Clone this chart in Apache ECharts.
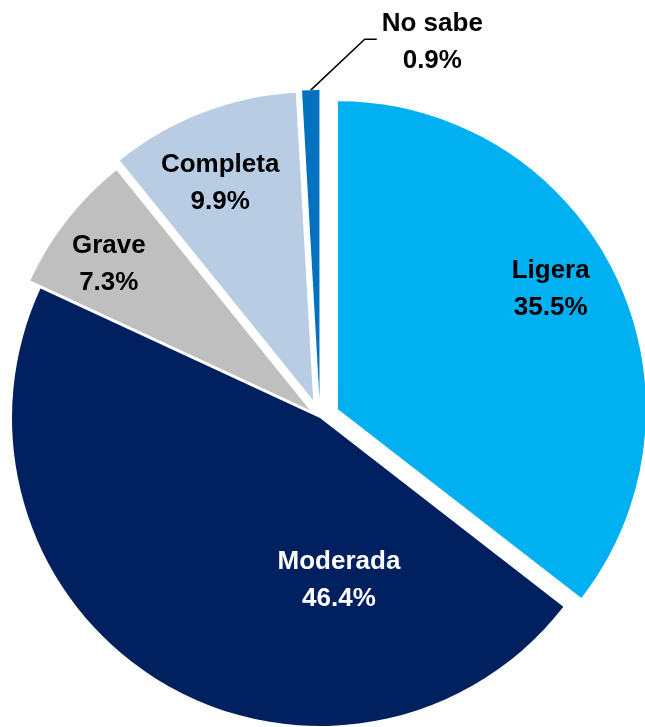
<!DOCTYPE html>
<html>
<head>
<meta charset="utf-8">
<script src="https://cdn.jsdelivr.net/npm/echarts@6/dist/echarts.min.js"></script>
<style>
  html, body { margin: 0; padding: 0; background: #fff; }
  #chart { width: 645px; height: 727px; }
</style>
</head>
<body>
<div id="chart"></div>
<script>
// datos del gráfico
const categories = ['Ligera', 'Moderada', 'Grave', 'Completa', 'No sabe'];
const values = [35.5, 46.4, 7.3, 9.9, 0.9];

// estilo por porción
const colors = ['#00B0F0', '#002060', '#BFBFBF', '#B8CCE4', '#0070C0'];
const labelColors = ['#000', '#fff', '#000', '#000', '#000'];
const explode = [20, 0, 13, 19, 20];      // separación de cada porción (px)
const labelDist = [264, 163, 261, 255, 0]; // distancia de la etiqueta al centro (px)
const labelTurn = [-3, -38, -2, -2, 0];    // giro de la etiqueta (grados)

const CX = 320, CY = 418, R = 308;
const FONT = "'Liberation Sans', Arial, sans-serif";

const total = values.reduce((a, b) => a + b, 0);
const midAngles = [];
let acc = 0;
values.forEach((v) => {
  midAngles.push(((acc + v / 2) / total) * 360);
  acc += v;
});

const polar = (deg, dist) => {
  const a = (deg * Math.PI) / 180;
  return [CX + dist * Math.sin(a), CY - dist * Math.cos(a)];
};

// una serie por porción, cada una desplazada hacia fuera según explode
const makeSeries = (k) => {
  const outside = k === 4;
  return {
    type: 'pie',
    center: polar(midAngles[k], explode[k]),
    radius: R,
    startAngle: 90,
    clockwise: true,
    avoidLabelOverlap: false,
    silent: true,
    data: values.map((v, i) => ({
      name: categories[i],
      value: v,
      itemStyle: { color: i === k ? colors[i] : 'rgba(0,0,0,0)' },
      label: { show: i === k },
      labelLine: { show: i === k && outside }
    })),
    label: {
      position: outside ? 'outside' : 'inside',
      formatter: (p) => `${p.name}\n${p.value.toFixed(1)}%`,
      fontFamily: FONT,
      fontWeight: 'bold',
      fontSize: 26,
      lineHeight: 37,
      color: labelColors[k]
    },
    labelLine: {
      lineStyle: { color: '#000', width: 1.5 }
    },
    labelLayout: (params) => {
      if (params.dataIndex !== k) return {};
      if (!outside) {
        const [x, y] = polar(midAngles[k] + labelTurn[k], labelDist[k]);
        return { x, y, align: 'center', verticalAlign: 'middle' };
      }
      const p0 = polar(midAngles[k], R + explode[k]);
      const p1 = [p0[0] + 54, p0[1] - 51];
      const p2 = [p1[0] + 12, p1[1]];
      const w = params.labelRect.width;
      return {
        x: p2[0] + 5 + w / 2,
        y: p2[1] + 3,
        align: 'center',
        verticalAlign: 'middle',
        labelLinePoints: [p0, p1, p2]
      };
    }
  };
};

const chart = echarts.init(document.getElementById('chart'));
chart.setOption({
  animation: false,
  backgroundColor: '#fff',
  series: categories.map((_, k) => makeSeries(k))
});
</script>
</body>
</html>
